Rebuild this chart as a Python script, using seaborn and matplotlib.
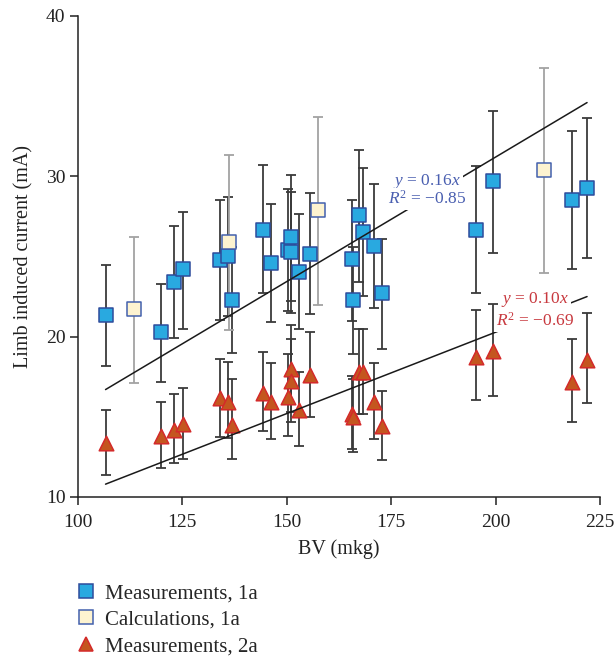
import numpy as np
import pandas as pd
import matplotlib
matplotlib.use("Agg")
import matplotlib.pyplot as plt
import seaborn as sns
from matplotlib.lines import Line2D

# Measurements, 1a (squares) and 2a (triangles) share the same BV values
bv = [106.6, 119.9, 123.1, 125.2, 134.1, 135.9, 136.9, 144.4, 146.3, 150.4,
      150.9, 150.9, 152.9, 155.6, 165.5, 165.9, 167.2, 168.3, 171.0, 172.8,
      195.4, 199.4, 218.3, 221.9]

meas1_y = [21.35, 20.3, 23.4, 24.2, 24.8, 25.0, 22.3, 26.65, 24.6, 25.4,
           26.2, 25.3, 24.05, 25.15, 24.85, 22.3, 27.6, 26.55, 25.65, 22.7,
           26.65, 29.7, 28.55, 29.25]
meas1_hi = [24.5, 23.3, 26.9, 27.8, 28.5, 28.7, 25.6, 30.7, 28.3, 29.2,
            30.1, 29.05, 27.65, 28.95, 28.5, 25.6, 31.65, 30.55, 29.5, 26.1,
            30.65, 34.1, 32.8, 33.65]
meas1_lo = [18.15, 17.2, 19.9, 20.5, 21.05, 21.3, 18.95, 22.7, 20.9, 21.6,
            22.2, 21.45, 20.45, 21.4, 21.0, 18.9, 23.4, 22.55, 21.8, 19.25,
            22.7, 25.2, 24.25, 24.9]

meas2_y = [13.35, 13.8, 14.2, 14.55, 16.15, 15.95, 14.5, 16.5, 15.9, 16.25,
           18.0, 17.25, 15.4, 17.6, 15.2, 15.0, 17.8, 17.8, 15.95, 14.45,
           18.75, 19.1, 17.2, 18.55]
meas2_hi = [15.4, 15.95, 16.4, 16.8, 18.6, 18.4, 17.35, 19.05, 18.35, 18.9,
            20.75, 19.85, 17.8, 20.3, 17.55, 17.35, 20.5, 20.5, 18.35, 16.6,
            21.65, 22.05, 19.85, 21.5]
meas2_lo = [11.35, 11.8, 12.15, 12.35, 13.75, 13.65, 12.4, 14.1, 13.6, 13.8,
            15.3, 14.7, 13.15, 15.0, 13.0, 12.8, 15.2, 15.2, 13.6, 12.3,
            16.05, 16.3, 14.65, 15.85]

# Calculations, 1a
calc_bv = [113.3, 136.1, 157.4, 211.6]
calc_y = [21.7, 25.9, 27.9, 30.4]
calc_hi = [26.2, 31.3, 33.7, 36.75]
calc_lo = [17.1, 20.4, 22.0, 24.0]

# fitted lines (end points)
fit_x = [106.6, 221.9]
fit1_y = [16.7, 34.6]
fit2_y = [10.8, 22.5]

labels = ["Measurements, 1a", "Calculations, 1a", "Measurements, 2a"]

BLUE, BLUE_EDGE = "#29a9e0", "#2d4c9c"
CREAM, CREAM_EDGE = "#fdf3d0", "#4360ae"
RED, RED_EDGE = "#c4561f", "#d42a2a"
DARK, LIGHT = "#3a3a3a", "#a3a3a3"

sns.set_theme(style="ticks")
plt.rcParams["font.family"] = ["Liberation Serif", "DejaVu Serif"]
plt.rcParams["mathtext.fontset"] = "custom"
plt.rcParams["mathtext.rm"] = "Liberation Serif"
plt.rcParams["mathtext.it"] = "Liberation Serif:italic"

fig = plt.figure(figsize=(6.15, 6.58), dpi=100)
ax = fig.add_axes([0.1268, 0.2447, 0.8488, 0.731])

m1 = pd.DataFrame({"bv": bv, "y": meas1_y, "hi": meas1_hi, "lo": meas1_lo})
m2 = pd.DataFrame({"bv": bv, "y": meas2_y, "hi": meas2_hi, "lo": meas2_lo})
cc = pd.DataFrame({"bv": calc_bv, "y": calc_y, "hi": calc_hi, "lo": calc_lo})

# error bars
for df, col in [(m1, DARK), (m2, DARK), (cc, LIGHT)]:
    yerr = np.vstack([df["y"] - df["lo"], df["hi"] - df["y"]])
    ax.errorbar(df["bv"], df["y"], yerr=yerr, fmt="none", ecolor=col,
                elinewidth=1.3, capsize=3.5, capthick=1.3, zorder=2)

# markers
sns.scatterplot(data=m1, x="bv", y="y", marker="s", s=95, color=BLUE,
                edgecolor=BLUE_EDGE, linewidth=1.1, ax=ax, zorder=3, legend=False)
sns.scatterplot(data=cc, x="bv", y="y", marker="s", s=95, color=CREAM,
                edgecolor=CREAM_EDGE, linewidth=1.1, ax=ax, zorder=3, legend=False)
sns.scatterplot(data=m2, x="bv", y="y", marker="^", s=110, color=RED,
                edgecolor=RED_EDGE, linewidth=1.1, ax=ax, zorder=3, legend=False)

# fit lines
sns.lineplot(x=fit_x, y=fit1_y, color="#1a1a1a", linewidth=1.1, ax=ax, zorder=4)
sns.lineplot(x=fit_x, y=fit2_y, color="#1a1a1a", linewidth=1.1, ax=ax, zorder=4)

box = dict(facecolor="white", edgecolor="none", pad=1.5)
ax.text(183.6, 29.7, r"$y$ = 0.16$x$", color="#4a5fb0", fontsize=12.5,
        ha="center", va="center", bbox=box, zorder=5)
ax.text(183.6, 28.6, r"$R^2$ = −0.85", color="#4a5fb0", fontsize=12.5,
        ha="center", va="center", bbox=box, zorder=5)
ax.text(209.5, 22.3, r"$y$ = 0.10$x$", color="#c8393f", fontsize=12.5,
        ha="center", va="center", bbox=box, zorder=5)
ax.text(209.5, 21.0, r"$R^2$ = −0.69", color="#c8393f", fontsize=12.5,
        ha="center", va="center", bbox=box, zorder=5)

ax.set_xlim(100, 225)
ax.set_ylim(10, 40)
ax.set_xticks([100, 125, 150, 175, 200, 225])
ax.set_yticks([10, 20, 30, 40])
ax.tick_params(axis="both", labelsize=14, length=6, width=1.1, color="#222222",
               labelcolor="#222222", direction="out", pad=3)
ax.tick_params(axis="x", pad=6)
for s in ["left", "bottom"]:
    ax.spines[s].set_color("#222222")
    ax.spines[s].set_linewidth(1.1)
sns.despine(ax=ax)

ax.set_xlabel("BV (mkg)", fontsize=14.5, color="#222222", labelpad=6)
ax.set_ylabel("Limb induced current (mA)", fontsize=14.5, color="#222222", labelpad=9)

handles = [
    Line2D([], [], marker="s", linestyle="none", markersize=9.5,
           markerfacecolor=BLUE, markeredgecolor=BLUE_EDGE, markeredgewidth=1.1),
    Line2D([], [], marker="s", linestyle="none", markersize=9.5,
           markerfacecolor=CREAM, markeredgecolor=CREAM_EDGE, markeredgewidth=1.1),
    Line2D([], [], marker="^", linestyle="none", markersize=10.5,
           markerfacecolor=RED, markeredgecolor=RED_EDGE, markeredgewidth=1.1),
]
fig.legend(handles, labels, loc="center left", bbox_to_anchor=(0.126, 0.058),
           frameon=False, fontsize=15, handlelength=0.8, handletextpad=0.51,
           labelspacing=0.33, borderpad=0, borderaxespad=0)

fig.savefig("out.png", dpi=100)
